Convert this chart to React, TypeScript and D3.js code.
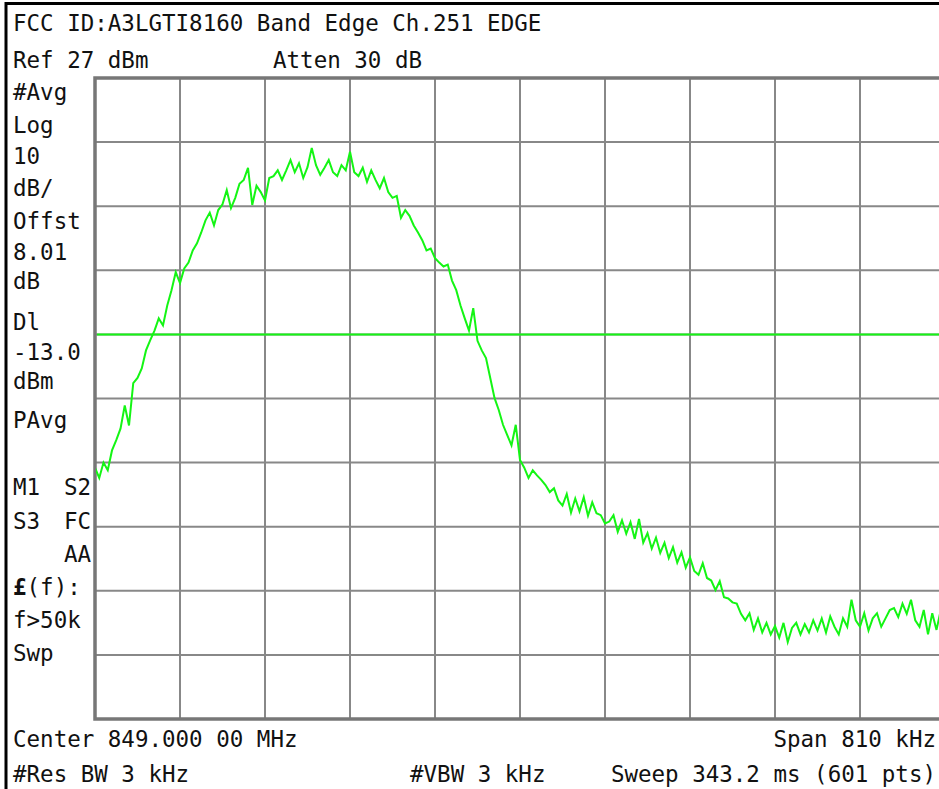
import React, { useEffect, useRef } from "react";
import * as d3 from "d3";

// Spectrum analyser settings
const centerMHz = 849.0;
const spanMHz = 0.81;
const refLevel = 27; // dBm at top graticule
const dbPerDiv = 10;
const divisions = 10;
const displayLine = -13.0;

// Trace in dBm (201 samples across the span)
const traceDbm: number[] = [
  -33.8, -35.4, -33.0, -34.2, -31.1, -29.5, -27.7, -24.1, -27.2, -20.6,
  -19.8, -18.3, -15.5, -13.9, -12.4, -10.5, -11.6, -8.5, -6.1, -3.3,
  -5.0, -2.7, -1.8, 0.1, 1.2, 2.9, 4.8, 6.0, 4.0, 6.4,
  7.3, 9.5, 6.7, 8.3, 10.5, 11.1, 13.0, 7.2, 10.2, 9.2,
  7.9, 11.4, 11.7, 12.6, 11.1, 12.6, 14.2, 12.3, 13.7, 11.4,
  13.1, 16.1, 13.4, 11.9, 13.0, 14.2, 12.3, 11.7, 13.4, 12.6,
  15.5, 12.3, 11.7, 13.0, 10.8, 12.6, 11.1, 9.8, 11.4, 9.2,
  8.3, 8.6, 5.2, 6.4, 5.5, 4.0, 2.9, 1.7, 0.1, 0.4,
  -1.1, -1.8, -2.4, -2.1, -4.6, -6.1, -8.5, -10.5, -12.4, -8.9,
  -14.0, -15.5, -16.7, -19.8, -22.9, -24.8, -27.1, -28.7, -30.3, -27.1,
  -32.6, -33.8, -35.4, -34.2, -35.0, -35.7, -36.5, -37.6, -37.0, -38.9,
  -39.7, -37.9, -40.8, -38.6, -40.6, -38.4, -41.3, -39.2, -40.9, -41.2,
  -42.5, -42.2, -41.2, -43.8, -42.0, -44.1, -42.3, -44.9, -41.8, -45.5,
  -44.0, -46.4, -44.7, -47.1, -45.5, -47.9, -46.2, -48.6, -47.0, -49.4,
  -47.8, -49.9, -50.5, -48.7, -51.0, -51.4, -52.9, -51.5, -54.0, -54.2,
  -54.8, -55.0, -56.6, -57.6, -56.5, -59.1, -57.3, -59.5, -58.0, -59.8,
  -58.5, -60.3, -58.0, -61.0, -58.8, -58.0, -59.8, -58.2, -59.5, -57.6,
  -59.2, -57.3, -59.5, -57.0, -58.6, -59.8, -57.3, -58.6, -54.4, -57.6,
  -58.6, -56.5, -59.2, -57.3, -56.5, -58.6, -57.3, -56.0, -55.7, -57.1,
  -55.0, -56.6, -54.4, -57.6, -58.6, -56.0, -59.8, -56.5, -59.1, -56.0,
  -57.6,
];

// Screen annotations
const titleText = "FCC ID:A3LGTI8160 Band Edge Ch.251 EDGE";
const refText = "Ref 27 dBm";
const attenText = "Atten 30 dB";
const sideLabels: { text: string; y: number }[] = [
  { text: "#Avg", y: 100 },
  { text: "Log", y: 133 },
  { text: "10", y: 164 },
  { text: "dB/", y: 196 },
  { text: "Offst", y: 229 },
  { text: "8.01", y: 260 },
  { text: "dB", y: 289 },
  { text: "Dl", y: 330 },
  { text: "-13.0", y: 360 },
  { text: "dBm", y: 389 },
  { text: "PAvg", y: 428 },
  { text: "M1", y: 495 },
  { text: "S3", y: 529 },
  { text: "f>50k", y: 628 },
  { text: "Swp", y: 661 },
];
const sideRightLabels: { text: string; y: number }[] = [
  { text: "S2", y: 495 },
  { text: "FC", y: 529 },
  { text: "AA", y: 562 },
];
const centerText = "Center 849.000 00 MHz";
const spanText = "Span 810 kHz";
const rbwText = "#Res BW 3 kHz";
const vbwText = "#VBW 3 kHz";
const sweepText = "Sweep 343.2 ms (601 pts)";

const W = 939;
const H = 789;
const plot = { left: 95, top: 78, right: 945, bottom: 719 };
const FONT = "'DejaVu Sans Mono', monospace";
const GREEN = "#14f514";

const App = () => {
  const ref = useRef<SVGSVGElement>(null);

  useEffect(() => {
    const svg = d3.select(ref.current);
    svg.selectAll("*").remove();

    const x = d3
      .scaleLinear()
      .domain([centerMHz - spanMHz / 2, centerMHz + spanMHz / 2])
      .range([plot.left, plot.right]);
    const y = d3
      .scaleLinear()
      .domain([refLevel - dbPerDiv * divisions, refLevel])
      .range([plot.bottom, plot.top]);

    svg.append("rect").attr("width", W).attr("height", H).attr("fill", "white");

    // outer black border (left and top)
    svg.append("line").attr("x1", 6).attr("x2", 6).attr("y1", 2).attr("y2", H)
      .attr("stroke", "#000").attr("stroke-width", 3);
    svg.append("line").attr("x1", 5).attr("x2", W).attr("y1", 3.5).attr("y2", 3.5)
      .attr("stroke", "#000").attr("stroke-width", 3);

    // graticule
    const xTicks = d3.range(divisions + 1).map((i) => x.domain()[0] + (spanMHz / divisions) * i);
    const yTicks = d3.range(divisions + 1).map((i) => refLevel - dbPerDiv * i);
    const g = svg.append("g");
    g.selectAll(".vx")
      .data(xTicks)
      .enter()
      .append("line")
      .attr("x1", (d) => x(d))
      .attr("x2", (d) => x(d))
      .attr("y1", plot.top)
      .attr("y2", plot.bottom)
      .attr("stroke", "#888")
      .attr("stroke-width", 2);
    g.selectAll(".hy")
      .data(yTicks)
      .enter()
      .append("line")
      .attr("x1", plot.left)
      .attr("x2", plot.right)
      .attr("y1", (d) => y(d))
      .attr("y2", (d) => y(d))
      .attr("stroke", "#888")
      .attr("stroke-width", 2);
    // frame
    g.append("rect")
      .attr("x", plot.left)
      .attr("y", plot.top)
      .attr("width", plot.right - plot.left)
      .attr("height", plot.bottom - plot.top)
      .attr("fill", "none")
      .attr("stroke", "#777")
      .attr("stroke-width", 3.5);

    svg.append("clipPath").attr("id", "plotclip")
      .append("rect")
      .attr("x", plot.left + 1)
      .attr("y", plot.top)
      .attr("width", plot.right - plot.left)
      .attr("height", plot.bottom - plot.top);

    // display line
    svg.append("line")
      .attr("x1", plot.left + 2)
      .attr("x2", plot.right)
      .attr("y1", y(displayLine))
      .attr("y2", y(displayLine))
      .attr("stroke", GREEN)
      .attr("stroke-width", 2);

    // trace
    const step = spanMHz / (traceDbm.length - 1);
    const line = d3
      .line<number>()
      .x((_d, i) => x(x.domain()[0] + step * i))
      .y((d) => y(d));
    svg.append("path")
      .attr("d", line(traceDbm))
      .attr("clip-path", "url(#plotclip)")
      .attr("fill", "none")
      .attr("stroke", GREEN)
      .attr("stroke-width", 2);

    // text
    const txt = (s: string, tx: number, ty: number, anchor = "start") =>
      svg.append("text")
        .attr("x", tx)
        .attr("y", ty)
        .attr("text-anchor", anchor)
        .attr("font-family", FONT)
        .attr("font-size", 22.5)
        .attr("fill", "#111")
        .text(s);

    txt(titleText, 13, 31);
    txt(refText, 13, 68);
    txt(attenText, 273, 68);
    sideLabels.forEach((l) => txt(l.text, 13, l.y));
    sideRightLabels.forEach((l) => txt(l.text, 91, l.y, "end"));

    const lf = svg.append("text")
      .attr("x", 13)
      .attr("y", 595)
      .attr("font-family", FONT)
      .attr("font-size", 22.5)
      .attr("fill", "#111");
    lf.append("tspan").attr("font-weight", "bold").text("£");
    lf.append("tspan").text("(f):");

    txt(centerText, 13, 747);
    txt(spanText, 936, 747, "end");
    txt(rbwText, 13, 782);
    txt(vbwText, 410, 782);
    txt(sweepText, 936, 782, "end");
  }, []);

  return (
    <svg
      ref={ref}
      width={W}
      height={H}
      style={{ position: "absolute", left: 0, top: 0 }}
    />
  );
};

export default App;
